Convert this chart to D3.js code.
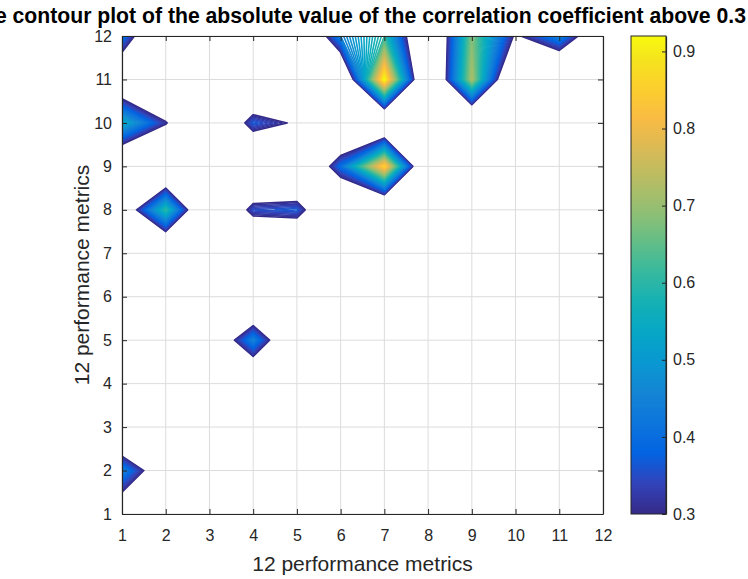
<!DOCTYPE html>
<html>
<head>
<meta charset="utf-8">
<script src="https://cdn.jsdelivr.net/npm/d3@7"></script>
<style>
  body { margin: 0; background: #fff; }
  svg { display: block; font-family: Arial, "Liberation Sans", sans-serif; }
</style>
</head>
<body>
<svg id="chart" width="748" height="579"></svg>
<script>
// metric numbers on both axes
const metrics = [1, 2, 3, 4, 5, 6, 7, 8, 9, 10, 11, 12];
const colorbarTicks = [0.3, 0.4, 0.5, 0.6, 0.7, 0.8, 0.9];

// |r| kept where above 0.3 (0 elsewhere), one row per y metric (first row = y 1, bottom of the plot)
const absCorr = [
  [0.15, 0,    0,    0,    0,    0,    0,    0,    0,    0,    0,    0   ], // y = 1
  [0.45, 0.15, 0,    0,    0,    0,    0,    0,    0,    0,    0,    0   ], // y = 2
  [0,    0,    0,    0,    0,    0,    0,    0,    0,    0,    0,    0   ], // y = 3
  [0,    0,    0,    0.05, 0,    0,    0,    0,    0,    0,    0,    0   ], // y = 4
  [0,    0,    0.1,  0.45, 0.05, 0,    0,    0,    0,    0,    0,    0   ], // y = 5
  [0,    0,    0,    0,    0,    0,    0,    0,    0,    0,    0,    0   ], // y = 6
  [0,    0,    0,    0,    0,    0,    0,    0,    0,    0,    0,    0   ], // y = 7
  [0.15, 0.6,  0,    0.35, 0.37, 0,    0,    0,    0,    0,    0,    0   ], // y = 8
  [0.05, 0,    0,    0,    0,    0.4,  0.86, 0,    0,    0,    0,    0   ], // y = 9
  [0.55, 0.31, 0,    0.37, 0.28, 0,    0,    0,    0,    0,    0,    0   ], // y = 10
  [0.1,  0,    0,    0,    0,    0.05, 0.92, 0,    0.72, 0,    0,    0   ], // y = 11
  [0.42, 0,    0,    0,    0,    0.45, 0.6,  0,    0.68, 0.28, 0.45, 0.1 ]  // y = 12
];

// parula colormap, sampled every 4th of its 64 entries
const parulaColors = ['#352a87', '#3243ba', '#0363e1', '#0d75dc', '#1485d4', '#0998d1',
  '#06a7c6', '#15b1b4', '#38b99e', '#65be86', '#92bf73', '#b7bd64', '#d9ba56',
  '#f8bb44', '#fcce2e', '#f5e41d', '#f9fb0e'];
const parulaIndex = [0, 4, 8, 12, 16, 20, 24, 28, 32, 36, 40, 44, 48, 52, 56, 60, 63];

const W = 748, H = 579;
const margin = { top: 36, right: 145, bottom: 65, left: 122 };
const x0 = margin.left, x1 = W - margin.right;
const y0 = margin.top, y1 = H - margin.bottom;
const ink = '#262626';

const svg = d3.select('#chart');

const n = metrics.length;
const values = absCorr.flat();
const zMin = 0.3;
const zMax = d3.max(values);
const levels = d3.range(zMin, zMax + 1e-9, 0.01);

const xScale = d3.scaleLinear().domain([1, 12]).range([x0, x1]);
const yScale = d3.scaleLinear().domain([1, 12]).range([y1, y0]);

const color = d3.scaleLinear()
  .domain(parulaIndex.map(i => zMin + (zMax - zMin) * i / 63))
  .range(parulaColors)
  .clamp(true);

// grid
const grid = svg.append('g').attr('stroke', '#dcdcdc').attr('stroke-width', 1);
grid.selectAll('.gx').data(metrics).join('line')
  .attr('x1', d => xScale(d)).attr('x2', d => xScale(d))
  .attr('y1', y0).attr('y2', y1);
grid.selectAll('.gy').data(metrics).join('line')
  .attr('y1', d => yScale(d)).attr('y2', d => yScale(d))
  .attr('x1', x0).attr('x2', x1);

// contour lines
svg.append('clipPath').attr('id', 'plotClip')
  .append('rect').attr('x', x0).attr('y', y0).attr('width', x1 - x0).attr('height', y1 - y0);

const contours = d3.contours().size([n, n]).thresholds(levels)(values);

// grid index i sits at contour coordinate i + 0.5, i.e. metric i + 1
const proj = d3.geoTransform({
  point: function (x, y) { this.stream.point(xScale(x + 0.5), yScale(y + 0.5)); }
});
const path = d3.geoPath(proj);

svg.append('g')
  .attr('clip-path', 'url(#plotClip)')
  .selectAll('path')
  .data(contours)
  .join('path')
  .attr('d', path)
  .attr('fill', 'none')
  .attr('stroke', d => color(d.value))
  .attr('stroke-width', 1.6)
  .attr('stroke-linejoin', 'round');

// axes (ticks point inward on all four sides)
function styleAxis(g, fontSize) {
  g.select('.domain').attr('stroke', ink).attr('stroke-width', 1.2);
  g.selectAll('.tick line').attr('stroke', ink);
  g.selectAll('.tick text').attr('fill', ink).style('font-size', fontSize + 'px');
}

svg.append('g')
  .attr('transform', `translate(0,${y1})`)
  .call(d3.axisBottom(xScale).tickValues(metrics).tickSize(-5).tickSizeOuter(0).tickPadding(16))
  .call(g => styleAxis(g, 16));

svg.append('g')
  .attr('transform', `translate(${x0},0)`)
  .call(d3.axisLeft(yScale).tickValues(metrics).tickSize(-5).tickSizeOuter(0).tickPadding(10))
  .call(g => styleAxis(g, 16));

svg.append('g')
  .attr('transform', `translate(0,${y0})`)
  .call(d3.axisTop(xScale).tickValues(metrics).tickSize(-5).tickSizeOuter(0).tickFormat(''))
  .call(g => styleAxis(g, 16));

svg.append('g')
  .attr('transform', `translate(${x1},0)`)
  .call(d3.axisRight(yScale).tickValues(metrics).tickSize(-5).tickSizeOuter(0).tickFormat(''))
  .call(g => styleAxis(g, 16));

// labels
svg.append('text')
  .attr('x', (x0 + x1) / 2).attr('y', 571)
  .attr('text-anchor', 'middle').attr('fill', ink)
  .style('font-size', '21px')
  .text('12 performance metrics');

svg.append('text')
  .attr('transform', 'rotate(-90)')
  .attr('x', -(y0 + y1) / 2).attr('y', 89)
  .attr('text-anchor', 'middle').attr('fill', ink)
  .style('font-size', '21px')
  .text('12 performance metrics');

svg.append('text')
  .attr('x', 746).attr('y', 23)
  .attr('text-anchor', 'end').attr('fill', '#000')
  .style('font-size', '21.2px').style('font-weight', 'bold')
  .text('The contour plot of the absolute value of the correlation coefficient above 0.3');

// colorbar
const cbX = 631, cbW = 35;
const cbScale = d3.scaleLinear().domain([zMin, zMax]).range([y1, y0]);

const grad = svg.append('defs').append('linearGradient')
  .attr('id', 'parula').attr('x1', 0).attr('y1', 1).attr('x2', 0).attr('y2', 0);
grad.selectAll('stop').data(parulaColors).join('stop')
  .attr('offset', (d, i) => parulaIndex[i] / 63)
  .attr('stop-color', d => d);

svg.append('rect')
  .attr('x', cbX).attr('y', y0).attr('width', cbW).attr('height', y1 - y0)
  .attr('fill', 'url(#parula)')
  .attr('stroke', ink).attr('stroke-width', 1);

svg.append('g')
  .attr('transform', `translate(${cbX + cbW},0)`)
  .call(d3.axisRight(cbScale).tickValues(colorbarTicks).tickFormat(d3.format('.1f'))
    .tickSize(-4).tickSizeOuter(0).tickPadding(7))
  .call(g => styleAxis(g, 16));
</script>
</body>
</html>
